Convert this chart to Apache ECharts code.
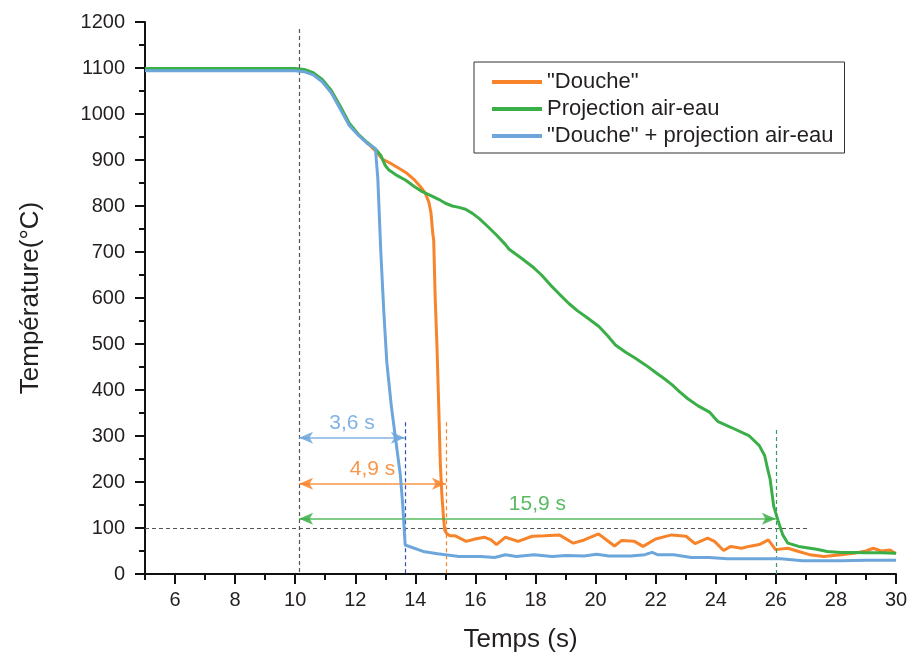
<!DOCTYPE html>
<html><head><meta charset="utf-8">
<script src="https://cdn.jsdelivr.net/npm/echarts@6/dist/echarts.min.js"></script>
<style>html,body{margin:0;padding:0;background:#fff}#c{width:912px;height:662px}</style>
</head><body><div id="c"></div><script>
const seriesNames = ['"Douche"', 'Projection air-eau', '"Douche" + projection air-eau'];
const xMajorTicks = [6, 8, 10, 12, 14, 16, 18, 20, 22, 24, 26, 28, 30];
const douche = [[5,1096],[6,1096],[7,1096],[8,1096],[9,1096],[10,1095],[10.3,1093],[10.6,1087],[10.9,1073],[11.2,1050],[11.5,1015],[11.8,978],[12.1,955],[12.4,937],[12.7,918],[12.9,902],[13.17,893],[13.45,882],[13.72,871],[13.95,858],[14.17,842],[14.33,828],[14.45,808],[14.52,785],[14.58,740],[14.61,726],[14.66,600],[14.72,494],[14.78,360],[14.83,241],[14.88,175],[14.94,120],[14.98,95],[15.04,88],[15.15,83],[15.33,83],[15.69,71],[15.99,76],[16.29,80],[16.52,74],[16.7,64],[17.0,80],[17.42,71],[17.89,82],[18.31,83],[18.79,85],[19.26,67],[19.62,74],[20.1,87],[20.63,61],[20.87,73],[21.29,71],[21.58,60],[22.0,76],[22.53,85],[23.01,82],[23.31,66],[23.73,78],[23.96,71],[24.26,51],[24.5,60],[24.86,56],[25.1,60],[25.45,64],[25.75,74],[25.99,53],[26.4,56],[26.76,49],[27.12,42],[27.6,38],[28.17,42],[28.6,45],[29.0,50],[29.25,56],[29.5,50],[29.8,52],[30,44]];
const projection = [[5,1099],[6,1099],[7,1099],[8,1099],[9,1099],[10,1099],[10.3,1097],[10.6,1090],[10.9,1075],[11.2,1051],[11.5,1017],[11.8,980],[12.1,956],[12.4,938],[12.7,922],[12.85,910],[13.0,888],[13.12,878],[13.4,866],[13.68,856],[13.95,843],[14.23,831],[14.5,823],[14.79,814],[15.0,806],[15.23,800],[15.45,797],[15.67,793],[15.9,784],[16.12,773],[16.4,756],[16.7,737],[17.0,716],[17.12,706],[17.5,688],[17.9,668],[18.2,650],[18.5,628],[18.8,608],[19.11,588],[19.4,572],[19.7,558],[20.11,538],[20.4,518],[20.66,498],[21.0,482],[21.3,470],[21.67,454],[22.0,438],[22.3,424],[22.55,411],[22.8,396],[23.07,381],[23.4,366],[23.79,352],[23.95,340],[24.08,331],[24.5,319],[25.1,301],[25.45,279],[25.63,257],[25.72,230],[25.81,206],[25.93,147],[26.08,115],[26.23,85],[26.4,67],[26.76,60],[27.36,54],[27.71,49],[28.17,47],[28.6,47],[29.0,46],[29.5,46],[30,45]];
const doucheProjection = [[5,1094],[6,1094],[7,1094],[8,1094],[9,1094],[10,1094],[10.3,1092],[10.6,1085],[10.9,1070],[11.2,1046],[11.5,1011],[11.8,975],[12.1,954],[12.4,936],[12.67,925],[12.75,860],[12.85,700],[12.95,570],[13.05,460],[13.2,365],[13.35,290],[13.5,215],[13.58,150],[13.66,63],[14.26,49],[14.74,44],[15.45,38],[16.17,38],[16.64,36],[17.0,42],[17.36,38],[17.95,42],[18.55,38],[19.02,40],[19.62,39],[20.03,43],[20.45,39],[21.17,39],[21.64,42],[21.88,47],[22.06,42],[22.6,42],[23.19,36],[23.79,36],[24.38,33],[25.57,33],[26.17,33],[26.88,29],[28.17,29],[29,30],[30,30]];
// annotation values: start time, end times, arrow levels, labels
const tStart = 10.13;
const tEnds = [13.65, 15.02, 26.0];
const arrowLevels = [296, 196, 120];
const arrowLabels = ['3,6 s', '4,9 s', '15,9 s'];
const guideTops = [330, 330, 313];
const startGuideTop = 1185;
const thresholdLevel = 100;
const thresholdEnd = 27.05;

const colors = ['#F7842A', '#3BAF47', '#6CA6DB'];
const arrowColors = ['#6CA6DB', '#F7842A', '#3BAF47'];
const guideColors = ['#2F4FB8', '#F7842A', '#3A9A66'];
const FONT = '"Liberation Sans", Arial, sans-serif';
const TXT = '#231F20';

const chart = echarts.init(document.getElementById('c'), null, {renderer: 'canvas'});

const markData = [];
markData.push([{coord: [tStart, startGuideTop], lineStyle: {color: '#555', type: [4, 3], width: 1.2}}, {coord: [tStart, 0]}]);
markData.push([{coord: [5, thresholdLevel], lineStyle: {color: '#555', type: [4, 3], width: 1.2}}, {coord: [thresholdEnd, thresholdLevel]}]);
for (let i = 0; i < 3; i++) {
  markData.push([{coord: [tEnds[i], guideTops[i]], lineStyle: {color: guideColors[i], type: [4, 3], width: 1.2}}, {coord: [tEnds[i], 0]}]);
  markData.push([
    {coord: [tStart, arrowLevels[i]], symbol: 'arrow', symbolSize: [9, 14],
     lineStyle: {color: arrowColors[i], type: 'solid', width: 1.6, opacity: 0.85},
     label: {show: true, position: 'middle', formatter: arrowLabels[i], color: arrowColors[i], fontSize: 21, fontFamily: FONT, distance: 4}},
    {coord: [tEnds[i], arrowLevels[i]], symbol: 'arrow', symbolSize: [9, 14]}
  ]);
}

const mkSeries = (name, data, color, z) => ({
  name, type: 'line', data, showSymbol: false, symbol: 'none', z,
  lineStyle: {color, width: 3}, itemStyle: {color}, animation: false
});

chart.setOption({
  animation: false,
  textStyle: {fontFamily: FONT},
  grid: {left: 145, right: 16, top: 22, bottom: 88},
  legend: {
    data: seriesNames, orient: 'vertical', left: 474, top: 62,
    icon: 'rect', itemWidth: 50, itemHeight: 4, itemGap: 5,
    padding: [9, 11, 6, 18],
    borderColor: '#333', borderWidth: 1,
    textStyle: {fontSize: 22, color: TXT, fontFamily: FONT}
  },
  xAxis: [{
    type: 'value', min: 5, max: 30, interval: 1,
    name: 'Temps (s)', nameLocation: 'middle', nameGap: 53,
    nameTextStyle: {fontSize: 26, color: TXT, fontFamily: FONT},
    axisLine: {show: true, onZero: false, lineStyle: {color: '#111', width: 2}},
    axisTick: {show: true, inside: false, length: 10, lineStyle: {color: '#111', width: 2}, customValues: xMajorTicks},
    axisLabel: {show: true, margin: 16, fontSize: 20, color: TXT, fontFamily: FONT, customValues: xMajorTicks},
    splitLine: {show: false}
  }, {
    type: 'value', min: 5, max: 30, interval: 1, position: 'bottom',
    axisLine: {show: false, onZero: false},
    axisTick: {show: true, length: 6, lineStyle: {color: '#111', width: 2}},
    axisLabel: {show: false}, splitLine: {show: false}
  }],
  yAxis: {
    type: 'value', min: 0, max: 1200, interval: 100,
    name: 'Température(°C)', nameLocation: 'middle', nameGap: 101,
    nameTextStyle: {fontSize: 26, color: TXT, fontFamily: FONT},
    axisLine: {show: true, lineStyle: {color: '#111', width: 2}},
    axisTick: {show: true, length: 10, lineStyle: {color: '#111', width: 2}},
    minorTick: {show: true, splitNumber: 2, length: 6, lineStyle: {color: '#111', width: 2}},
    axisLabel: {margin: 20, fontSize: 20, color: TXT, fontFamily: FONT, formatter: v => String(v)},
    splitLine: {show: false}
  },
  series: [
    {
      name: 'annotations', type: 'line', data: [], silent: true, z: 1,
      markLine: {silent: true, animation: false, symbol: ['none', 'none'], label: {show: false}, emphasis: {disabled: true}, data: markData}
    },
    mkSeries(seriesNames[0], douche, colors[0], 3),
    mkSeries(seriesNames[1], projection, colors[1], 4),
    mkSeries(seriesNames[2], doucheProjection, colors[2], 5)
  ]
});
</script></body></html>
